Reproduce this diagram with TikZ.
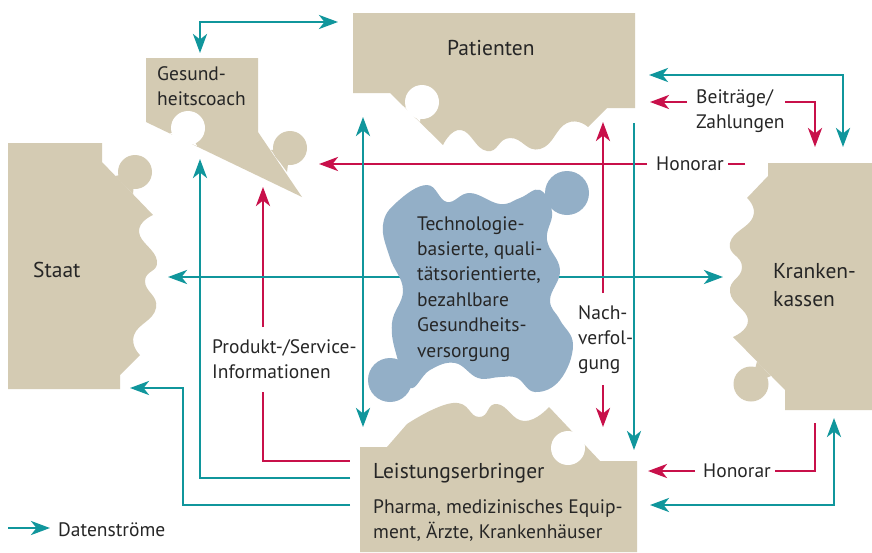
\documentclass[tikz,border=0pt]{standalone}
\usepackage{fontspec}
\setmainfont{PT Sans}
\usetikzlibrary{arrows.meta}
\definecolor{beige}{HTML}{D4CBB3}
\definecolor{tealc}{HTML}{10969C}
\definecolor{crim}{HTML}{C8104A}
\definecolor{blobc}{HTML}{93AFC7}
\definecolor{txt}{HTML}{262626}
\begin{document}
\begin{tikzpicture}[x=1pt,y=-1pt,
  hd/.tip={Stealth[length=19pt,width=14pt,inset=5.5pt]},
  flow/.style={draw=tealc,line width=2.8pt},
  pay/.style={draw=crim,line width=2.8pt},
  piece/.style={fill=beige},
  hole/.style={fill=white},
  lbl/.style={text=txt,font=\fontsize{19.5}{25}\selectfont,inner sep=0pt,align=left,anchor=base west},
  blbl/.style={lbl,font=\fontsize{21.5}{28}\selectfont}
]
\useasboundingbox (0,0) rectangle (872,552);
\fill[white] (0,0) rectangle (872,552);

% ---------- Patienten ----------
\fill[piece] (353,13) -- (635,13) -- (635,108) -- (607,108) -- (588,127)
  -- plot[smooth,tension=0.85] coordinates {(588,127) (567,123) (540,149) (510,138) (487,151) (461,130) (443,145)}
  -- (390,93) -- (353,93) -- cycle;
\fill[hole] (405,107) -- (420,122) -- (422,102) -- cycle;
\fill[hole] (422,102) circle (17);

% ---------- Gesundheitscoach ----------
\fill[piece] (146,58) -- (258,58) -- (258,132) -- (302,197) -- (146,122) -- cycle;
\fill[hole] (170,133.4) -- (197,146.2) -- (188,128) -- cycle;
\fill[hole] (188,128) circle (17);
\fill[piece] (271,150) -- (287,172) -- (290,148) -- cycle;
\fill[piece] (290,148) circle (17);

% ---------- Staat ----------
\fill[piece] (8,143) -- (102,143) -- (102,162) -- (153,215)
  -- plot[smooth,tension=0.85] coordinates {(153,215) (139,232) (157,261) (145,281) (156,308) (134,335) (140,355)}
  -- (120,375) -- (120,389) -- (8,389) -- cycle;
\fill[piece] (115,176) -- (133,194) -- (135,172) -- cycle;
\fill[piece] (135,172) circle (17);

% ---------- Krankenkassen ----------
\fill[piece] (768,163) -- (872,163) -- (872,410) -- (785,410) -- (785,390) -- (733,337)
  -- plot[smooth,tension=0.85] coordinates {(733,337) (748,320) (730,292) (742,267) (730,243) (753,217) (747,198)}
  -- (768,176) -- cycle;
\fill[piece] (757,361.5) -- (771,376) -- (751,384) -- cycle;
\fill[piece] (751,384) circle (17.5);

% ---------- Leistungserbringer ----------
\fill[piece] (360,447) -- (387,447) -- (407,424)
  -- plot[smooth,tension=0.85] coordinates {(407,424) (453,403) (479,417) (497,404) (524,421) (549,407)}
  -- (600,461) -- (637,461) -- (637,552) -- (360,552) -- cycle;
\fill[hole] (570,432) -- (585,447) -- (568,448) -- cycle;
\fill[hole] (568,448) circle (17);

% ---------- coordinates ----------
\coordinate (coTop) at (200,53);
\coordinate (paLeft) at (338,22);
\coordinate (paRight) at (649,75);
\coordinate (krTop) at (843,147);
\coordinate (paBot) at (363,117);
\coordinate (leTop) at (363,427);
\coordinate (paBotR) at (634,123);
\coordinate (leTopR) at (634,450);
\coordinate (stR) at (168,277);
\coordinate (krL) at (723,277);
\coordinate (leL1) at (350,478);
\coordinate (coBot) at (200,159);
\coordinate (leL2) at (350,505);
\coordinate (bend7) at (183,388);
\coordinate (stBot) at (130,388);
\coordinate (leR) at (650,505);
\coordinate (krBot) at (834,418);
\coordinate (lgA) at (8,528);
\coordinate (lgB) at (50,528);

% crimson flows
\coordinate (hoA) at (745,164); \coordinate (hoB) at (728,164);
\coordinate (hoC) at (647,164); \coordinate (coR) at (319,164);
\draw[pay] (hoA) -- (hoB);
\draw[pay,-hd] (hoC) -- (coR);
\coordinate (bzA) at (687,102); \coordinate (paR2) at (650,102);
\coordinate (bzB) at (785,102); \coordinate (krTop2) at (815,147);
\draw[pay,-hd] (bzA) -- (paR2);
\draw[pay,-hd] (bzB) -| (krTop2);
\coordinate (nvA) at (603,293); \coordinate (paBot2) at (603,122);
\coordinate (nvB) at (603,385); \coordinate (leTop2) at (603,427);
\draw[pay,-hd] (nvA) -- (paBot2);
\draw[pay,-hd] (nvB) -- (leTop2);
\coordinate (piA) at (263,327); \coordinate (coBot2) at (263,187);
\coordinate (piB) at (263,392); \coordinate (leL0) at (350,461);
\draw[pay,-hd] (piA) -- (coBot2);
\draw[pay] (piB) |- (leL0);
\coordinate (krBot2) at (815,423); \coordinate (hbA) at (775,471);
\coordinate (hbB) at (695,471); \coordinate (leR2) at (648,471);
\draw[pay] (krBot2) |- (hbA);
\draw[pay,-hd] (hbB) -- (leR2);

% teal flows
\draw[flow,hd-hd] (coTop) |- (paLeft);
\draw[flow,hd-hd] (paRight) -| (krTop);
\draw[flow,hd-hd] (paBot) -- (leTop);
\draw[flow,-hd] (paBotR) -- (leTopR);
\draw[flow,hd-hd] (stR) -- (krL);
\draw[flow,-hd] (leL1) -| (coBot);
\draw[flow,-hd] (leL2) -| (bend7) -- (stBot);
\draw[flow,hd-hd] (leR) -| (krBot);
\draw[flow,-hd] (lgA) -- (lgB);

% ---------- blob ----------
\fill[blobc] plot[smooth cycle,tension=0.7] coordinates {(383,225) (397,202) (427,185) (447,202) (470,193) (500,204) (520,198) (540,190) (552,212) (547,240) (560,270) (550,300) (560,320) (573,345) (560,380) (535,392) (517,378) (500,377) (478,378) (455,363) (430,370) (410,388) (397,357) (392,323) (403,290) (390,258)};
\fill[blobc] (567,193) circle (22);
\fill[blobc] (390,380) circle (22);

% ---------- texts (anchor = baseline of last line) ----------
\node[blbl] (tPat) at (447,55) {Patienten};
\node[lbl] (tCoach) at (157,105) {Gesund-\\heitscoach};
\node[blbl] (tStaat) at (33,277) {Staat};
\node[blbl] (tKrank) at (773,306) {Kranken-\\kassen};
\node[lbl,font=\fontsize{19.5}{25.4}\selectfont] (tBlob) at (417,357) {Technologie-\\basierte, quali-\\tätsorientierte,\\bezahlbare\\Gesundheits-\\versorgung};
\node[lbl] (tNach) at (578,369) {Nach-\\verfol-\\gung};
\node[lbl] (tProd) at (212,378) {Produkt-/Service-\\Informationen};
\node[lbl] (tBeit) at (696,128) {Beiträge/\\Zahlungen};
\node[lbl] (tHon1) at (656,170) {Honorar};
\node[lbl] (tHon2) at (703,477) {Honorar};
\node[blbl] (tLeist) at (373,478) {Leistungserbringer};
\node[lbl] (tPharma) at (373,538) {Pharma, medizinisches Equip-\\ment, Ärzte, Krankenhäuser};
\node[lbl] (tLeg) at (58,536) {Datenströme};
\end{tikzpicture}
\end{document}
